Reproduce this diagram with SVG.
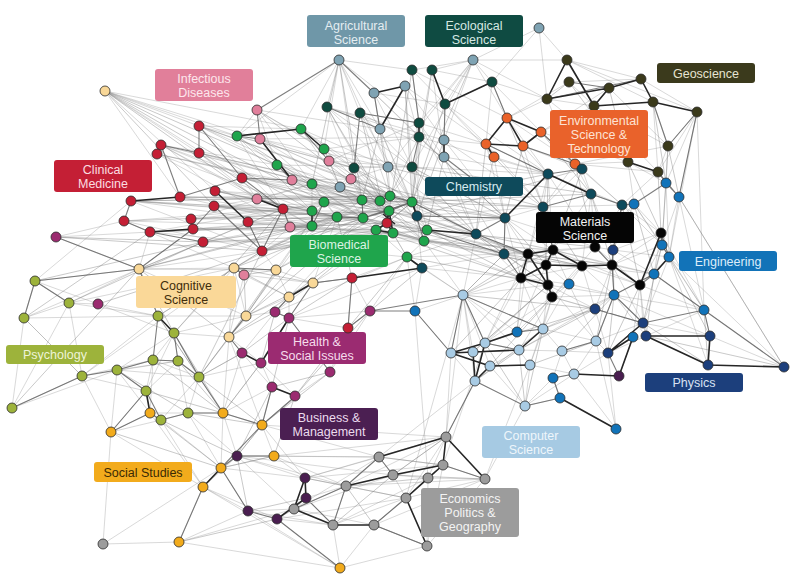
<svg xmlns="http://www.w3.org/2000/svg" width="804" height="583" viewBox="0 0 804 583">
<style>
.e1{fill:none;stroke:#8e8e8e;stroke-opacity:.42;stroke-width:.8}
.e15{fill:none;stroke:#7a7a7a;stroke-opacity:.45;stroke-width:.9}
.e2{fill:none;stroke:#5e5e5e;stroke-opacity:.8;stroke-width:1.1}
.e3{fill:none;stroke:#262626;stroke-width:1.6}
circle{stroke:#2b2b2b;stroke-width:.8}
.lb{font-family:"Liberation Sans",Arial,sans-serif;font-size:12.5px;text-anchor:middle}
.agri circle{fill:#7fa3b3}.eco circle{fill:#0f4b40}.geo circle{fill:#3b3a1b}.env circle{fill:#ea6229}
.chem circle{fill:#0e4a5b}.mat circle{fill:#050505}.eng circle{fill:#1173b9}.phys circle{fill:#1c3f7c}
.cs circle{fill:#a8cbe4}.econ circle{fill:#9c9c9c}.bus circle{fill:#4a1e50}.soc circle{fill:#f2ab1c}
.psy circle{fill:#9db33b}.hs circle{fill:#9b2b70}.cog circle{fill:#f9d898}.bio circle{fill:#1fa54c}
.cli circle{fill:#c41f35}.inf circle{fill:#e07f9b}
</style>
<rect width="804" height="583" fill="#fff"/>
<g id="connectors">
<path class="e1" d="M105 91L199 126M105 91L242 178M105 91L260 139M105 91L283 209M105 91L301 129M105 91L180 197M105 91L215 191M105 91L237 136
M199 126L301 129M199 126L329 161M199 126L283 209M199 126L351 179M199 126L389 211M161 145L277 165M161 145L312 226M161 145L363 218M161 145L242 178M157 154L290 227M157 154L380 201
M199 153L312 184M199 153L283 209M199 153L412 202M242 178L324 202M242 178L363 200M242 178L390 196M242 178L427 230M131 201L283 209M131 201L312 211M131 201L363 218M131 201L262 251M131 201L424 241
M180 197L312 226M180 197L337 217M180 197L390 196M215 191L312 211M215 191L389 211M215 191L380 201M214 206L337 217M214 206L376 230M214 206L412 202
M124 221L283 209M124 221L262 251M124 221L312 226M124 221L234 268M150 232L324 202M150 232L363 218M150 232L407 257M191 219L312 184M191 219L389 211M193 229L337 217M193 229L393 233
M203 242L312 226M203 242L363 218M203 242L424 241M262 251L363 200M262 251L390 196M262 251L427 230M262 251L412 202
M257 110L324 149M257 110L380 129M257 110L354 168M257 110L237 136M257 110L312 184M257 110L277 165M260 139L354 168M260 139L363 200M260 139L419 137M260 139L388 167
M237 136L324 202M237 136L283 209M237 136L354 168M301 129L354 168M301 129L388 167M301 129L363 218M324 149L412 167M324 149L419 137M324 149L389 211
M277 165L362 200M277 165L412 202M277 165L388 167M329 161L380 201M329 161L419 123M329 161L412 167M292 180L363 218M292 180L412 202M292 180L351 179
M339 60L327 107M339 60L360 113M339 60L380 129M339 60L354 168M339 60L412 70M339 60L301 129M339 60L324 149M339 60L237 136M339 60L419 123M339 60L388 167
M327 107L362 200M327 107L388 167M327 107L412 167M327 107L380 201M327 107L444 140M360 113L390 196M360 113L412 202M360 113L444 157M360 113L476 234
M374 93L412 167M374 93L419 137M374 93L445 104M374 93L505 218M405 86L444 140M405 86L486 144M405 86L419 137M405 86L412 167
M412 70L419 123M412 70L473 60M412 70L445 104M412 70L507 118M432 70L473 60M432 70L492 82M432 70L419 137M432 70L444 157
M473 60L492 82M473 60L507 118M473 60L547 99M473 60L445 104M473 60L419 123M473 60L567 60M473 60L444 140M473 60L388 167M473 60L412 167
M492 82L486 144M492 82L507 118M492 82L547 99M492 82L541 132M445 104L486 144M445 104L444 157M445 104L494 157M445 104L548 174
M419 123L444 157M419 123L412 202M419 123L476 234M419 137L417 216M419 137L412 202M419 137L505 218M380 129L412 202M380 129L417 216M380 129L388 167
M388 167L424 241M388 167L412 202M388 167L476 234M354 168L390 196M354 168L424 241M354 168L407 257M412 167L427 230M412 167L476 234M412 167L505 218M412 167L548 174
M444 140L505 218M444 140L543 207M444 157L476 234M444 157L504 254M486 144L543 207M486 144L505 218M486 144L548 174M494 157L505 218M494 157L548 174M494 157L476 234
M507 118L575 164M507 118L547 99M523 146L575 164M523 146L582 169M541 132L594 106M541 132L575 164M541 132L609 88M539 28L473 60M539 28L567 60M539 28L547 99M539 28L492 82
M547 99L594 106M547 99L575 164M547 99L628 162M567 60L641 79M567 60L653 102M569 82L641 79M569 82L594 106M569 82L507 118M567 60L697 112M566 60L628 162
M594 106L628 162M594 106L668 146M609 88L668 146M641 79L697 112M653 102L668 146M653 102L658 172M697 112L668 146M697 112L679 197M697 112L666 183M697 112L658 172M668 146L658 172M668 146L666 183M697 112L704 310M697 112L669 257
M575 164L591 194M575 164L622 205M575 164L628 162M582 169L591 194M582 169L543 207M628 162L634 204M628 162L666 183M658 172L679 197M658 172L666 183M658 172L622 205
M548 174L543 207M548 174L591 194M548 174L528 254M548 174L553 250M543 207L505 218M543 207L528 254M543 207L595 247M543 207L546 265M591 194L595 247M591 194L622 205M591 194L582 266
M622 205L661 233M622 205L612 265M634 204L662 245M634 204L661 233M666 183L662 245M666 183L669 257M679 197L669 257M679 197L704 310M679 197L662 245
M505 218L528 254M505 218L504 254M505 218L521 278M476 234L504 254M476 234L521 278M476 234L463 295M417 216L476 234M417 216L422 268M427 230L504 254M424 241L463 295M407 257L463 295M422 268L463 295M422 268L521 278M422 268L504 254
M504 254L528 254M504 254L521 278M504 254L546 265M504 254L463 295M553 250L595 247M553 250L612 265M595 247L613 250M595 247L612 265M595 247L640 285M613 250L661 233M613 250L654 274
M661 233L654 274M669 257L704 310M654 274L614 295M612 265L614 295M612 265L654 274M582 266L569 284M582 266L614 295M569 284L552 297M569 284L614 295M552 297L614 295M552 297L595 309M548 285L595 309M521 278L552 297M546 265L569 284M528 254L582 266
M614 295L595 309M614 295L643 323M614 295L646 336M595 309L643 323M595 309L608 353M640 285L643 323M640 285L704 310M654 274L704 310M704 310L710 336M704 310L646 336M704 310L784 367M662 245L704 310M710 336L784 367M643 323L646 336M643 323L710 336M608 353L646 336M608 353L574 374M619 376L633 337M669 257L643 323M669 257L708 365M669 257L784 367M679 197L784 367
M596 341L643 323M596 341L608 353M596 341L614 295M596 341L562 351M562 351L608 353M562 351L574 374M562 351L543 329M574 374L596 341M553 378L562 351M553 378L574 374M553 378L525 406M616 429L608 353M616 429L596 341M616 429L574 374
M463 295L451 353M463 295L473 352M463 295L485 343M463 295L519 350M463 295L490 366M463 295L475 381M463 295L415 311M463 295L521 278M463 295L548 285M463 295L543 329M463 295L517 332M543 329L552 297M543 329L548 285M543 329L596 341M517 332L552 297M517 332L543 329M485 343L519 350M485 343L552 297M485 343L521 278M451 353L475 381M473 352L519 350M519 350L490 366M519 350L530 365M519 350L562 351M530 365L490 366M530 365L525 406M530 365L574 374M490 366L525 406M475 381L525 406M525 406L560 398M574 374L525 406M553 378L560 398M543 329L530 365M614 295L543 329M614 295L519 350M552 297L519 350M552 297L530 365M548 285L485 343M548 285L473 352
M463 295L446 437M475 381L446 437M451 353L446 437M485 343L443 465M525 406L485 479M530 365L485 479M415 311L428 478M475 381L379 457M463 295L406 498
M446 437L428 478M446 437L406 498M446 437L393 475M443 465L485 479M443 465L427 546M428 478L485 479M428 478L393 475M428 478L427 546M393 475L406 498M393 475L379 457M379 457L443 465M379 457L346 486M346 486L406 498M346 486L333 525M333 525L406 498M374 525L406 498M374 525L427 546M374 525L428 478M294 509L346 486M294 509L379 457M294 509L374 525M305 478L346 486M305 478L379 457M306 498L346 486M306 498L333 525M277 519L333 525M248 511L294 509M248 511L333 525
M237 456L305 478M237 456L294 509M237 456L346 486M274 456L346 486M274 456L379 457M221 468L305 478M221 468L248 511M203 487L248 511M203 487L277 519M203 487L179 542M203 487L340 568M179 542L340 568M179 542L294 509M179 542L248 511M103 544L179 542M103 544L111 432M103 544L221 468M340 568L333 525M340 568L374 525M340 568L277 519M340 568L427 546M340 568L248 511M427 546L485 479M485 479L406 498
M446 437L262 425M446 437L274 456M379 457L262 425M393 475L237 456M406 498L277 519M443 465L305 478M485 479L346 486M446 437L346 486M446 437L305 478M428 478L333 525M393 475L294 509M443 465L346 486M379 457L237 456M485 479L374 525
M237 456L274 456M237 456L221 468M237 456L262 425M237 456L223 413M237 456L188 413M274 456L262 425M274 456L305 478M274 456L221 468M262 425L295 396M262 425L272 387M262 425L223 413M262 425L229 337M262 425L305 478M221 468L223 413M221 468L188 413M221 468L161 420
M203 487L150 413M203 487L161 420M203 487L111 432M111 432L150 413M111 432L161 420M111 432L146 391M111 432L82 376M111 432L117 370M150 413L188 413M150 413L161 420M150 413L117 370M150 413L153 360M161 420L199 377M161 420L188 413M188 413L199 377M188 413L223 413M188 413L178 361M223 413L199 377M223 413L242 353M223 413L272 387M223 413L261 363M223 413L229 337
M12 408L82 376M12 408L24 318M12 408L117 370M12 408L69 303M82 376L146 391M82 376L153 360M82 376L69 303M82 376L24 318M82 376L178 361M82 376L158 316M117 370L146 391M117 370L153 360M117 370L178 361M117 370L199 377M117 370L174 333M153 360L178 361M153 360L146 391M153 360L174 333M153 360L199 377M178 361L199 377M178 361L174 333M178 361L146 391
M199 377L174 333M199 377L229 337M199 377L242 353M199 377L246 316M199 377L158 316M199 377L261 363M146 391L174 333M158 316L174 333M158 316L139 269M158 316L234 268M158 316L246 316M174 333L229 337M174 333L246 316M174 333L234 268M69 303L35 281M69 303L98 304M69 303L24 318M69 303L158 316M69 303L139 269M35 281L139 269M35 281L24 318M35 281L98 304M24 318L158 316M24 318L82 376M98 304L158 316M98 304L174 333M56 237L139 269M56 237L124 221M56 237L150 232M35 281L131 201M24 318L139 269M69 303L234 268M82 376L234 268
M139 269L234 268M139 269L150 232M139 269L193 229M139 269L203 242M139 269L262 251M139 269L276 270M139 269L246 316M234 268L244 275M234 268L276 270M234 268L246 316M234 268L229 337M234 268L262 251M244 275L289 297M244 275L313 283M244 275L229 337M276 270L313 283M276 270L289 297M276 270L262 251M276 270L324 202M313 283L289 297M313 283L352 278M313 283L337 217M313 283L275 312M289 297L275 312M289 297L289 318M289 297L246 316M246 316L229 337M246 316L275 312M229 337L242 353M229 337L261 363
M275 312L289 318M275 312L242 353M289 318L330 372M242 353L272 387M261 363L272 387M261 363L295 396M295 396L262 425M330 372L295 396M330 372L348 328M370 311L348 328M370 311L407 257M370 311L289 318M370 311L330 372M348 328L289 318M348 328L352 278M352 278L407 257M352 278L370 311M415 311L422 268M415 311L407 257M415 311L451 353M234 268L312 226M244 275L337 217M276 270L363 218M289 297L363 218M313 283L393 233M229 337L312 226M246 316L324 202M289 318L422 268M275 312L407 257
M312 184L324 202M312 184L312 211M312 184L337 217M312 184L363 200M324 202L312 211M324 202L337 217M324 202L363 218M312 211L337 217M312 226L337 217M312 226L363 218M337 217L363 218M337 217L362 200M362 200L380 201M362 200L390 196M362 200L363 218M363 218L376 230M363 218L387 223M380 201L389 211M389 211L412 202M393 233L407 257M393 233L424 241M390 196L412 202M412 202L417 216M412 202L427 230M417 216L427 230M424 241L407 257M376 230L407 257
M283 209L312 211M283 209L290 227M283 209L312 226M290 227L312 226M290 227L262 251M290 227L337 217M248 222L262 251M248 222L290 227M248 222L312 226M351 179L354 168M351 179L362 200M351 179L380 201M351 179L388 167M354 168L388 167M354 168L362 200M388 167L390 196M388 167L412 167M412 167L390 196M412 167L412 202M340 187L351 179M340 187L354 168M340 187L362 200M340 187L312 184M329 161L340 187M329 161L354 168M324 149L329 161M324 149L340 187
M257 199L312 184M257 199L283 209M257 199L214 206M257 199L242 178M257 199L312 211M257 199L363 200M257 199L337 217M283 209L363 218M283 209L390 196M290 227L389 211M290 227L393 233M262 251L337 217M262 251L376 230M262 251L393 233M203 242L283 209M191 219L283 209M193 229L290 227M180 197L257 199M161 145L257 199M199 153L257 199M215 191L257 199M131 201L257 199
M312 184L412 202M312 211L389 211M312 226L387 223M324 202L380 201M337 217L390 196M337 217L412 202M337 217L424 241M363 218L427 230M362 200L417 216M363 200L424 241M351 179L412 202M354 168L417 216M329 161L390 196M301 129L412 202M277 165L363 218M292 180L389 211M260 139L312 184M237 136L312 211M199 126L312 184M157 154L312 211M131 201L337 217M150 232L312 226M203 242L337 217M262 251L412 202
M417 216L505 218M417 216L543 207M427 230L505 218M424 241L476 234M407 257L476 234M407 257L504 254M412 202L476 234M412 202L505 218M390 196L476 234M389 211L476 234M387 223L505 218M393 233L504 254M424 241L521 278M427 230L528 254M412 167L505 218M419 137L548 174M444 157L548 174M444 140L486 144M419 123L486 144M360 113L419 123M327 107L419 137
M505 218L553 250M505 218L595 247M476 234L528 254M476 234L546 265M504 254L553 250M504 254L548 285M528 254L595 247M528 254L612 265M546 265L612 265M546 265L552 297M553 250L640 285M582 266L640 285M582 266L552 297M548 285L614 295M521 278L569 284M521 278L582 266M553 250L569 284M595 247L552 297M612 265L661 233M612 265L662 245M640 285L669 257M640 285L662 245M582 266L654 274M553 250L654 274
M543 207L622 205M543 207L553 250M591 194L553 250M591 194L613 250M622 205L595 247M622 205L613 250M634 204L595 247M634 204L613 250M575 164L543 207M582 169L622 205M548 174L622 205M548 174L595 247M523 146L543 207M523 146L548 174M541 132L582 169M507 118L548 174M541 132L628 162M575 164L658 172M575 164L668 146M594 106L658 172
M661 233L669 257M634 204L669 257M622 205L662 245M613 250L669 257M661 233L704 310M662 245L654 274M614 295L704 310M614 295L710 336M640 285L646 336M640 285L633 337M612 265L643 323M612 265L595 309M582 266L595 309M552 297L643 323M548 285L596 341M569 284L596 341M569 284L543 329M546 265L517 332M528 254L517 332M528 254L485 343M521 278L517 332M521 278L543 329"/>
<path class="e15" d="M390 196L543 207M389 211L528 254M412 202L548 174M424 241L553 250M427 230L595 247M393 233L546 265M387 223L582 266M376 230L521 278M363 218L504 254M362 200L505 218M380 201L543 207M412 202L591 194M417 216L582 169M407 257L548 285M424 241L612 265M412 167L591 194M419 137L505 218M388 167L543 207M354 168L476 234M351 179L505 218M340 187L417 216M324 202L417 216M312 184L427 230M337 217L427 230M363 218L424 241M390 196L427 230M389 211L424 241M393 233L427 230M376 230L424 241M387 223L412 202M380 201L412 202M362 200L389 211
M131 201L390 196M124 221L389 211M150 232L387 223M193 229L376 230M203 242L393 233M180 197L363 200M157 154L362 200M161 145L380 201M199 153L390 196M199 126L412 202M242 178L389 211M214 206L363 218M215 191L337 217M191 219L363 218M262 251L387 223M248 222L389 211M283 209L380 201M290 227L376 230M257 199L390 196M260 139L390 196M237 136L363 218M257 110L389 211M105 91L312 211M105 91L324 202M105 91L277 165M105 91L257 199M105 91L214 206
M139 269L312 226M139 269L283 209M139 269L337 217M234 268L363 218M276 270L389 211M313 283L412 202M289 297L387 223M246 316L363 218M229 337L337 217M174 333L283 209M158 316L262 251M199 377L262 251M98 304L262 251M69 303L203 242M35 281L203 242M24 318L150 232M56 237L203 242M56 237L262 251M12 408L139 269
M327 107L389 211M360 113L387 223M374 93L390 196M405 86L412 202M412 70L389 211M432 70L412 202M380 129L362 200M419 137L390 196M445 104L412 202M444 140L417 216M444 157L427 230M473 60L412 202M339 60L362 200M339 60L312 184
M417 216L528 254M427 230L521 278M424 241L546 265M476 234L553 250M476 234L548 285M504 254L582 266M505 218L546 265M548 174L546 265M543 207L582 266M591 194L612 265M622 205L640 285M634 204L654 274M582 169L553 250M575 164L595 247M523 146L505 218M494 157L543 207M486 144L476 234M507 118L543 207M541 132L591 194M628 162L661 233M658 172L661 233M668 146L679 197M668 146L662 245M653 102L666 183M609 88L628 162M569 82L547 99M569 82L628 162
M679 197L784 367M669 257L710 336M662 245L643 323M654 274L646 336M640 285L608 353M614 295L608 353M612 265L596 341M613 250L614 295M704 310L708 365M646 336L784 367M643 323L708 365
M463 295L528 254M463 295L553 250M463 295L504 254M463 295L595 309M485 343L595 309M519 350L595 309M543 329L595 309M530 365L596 341M562 351L614 295M451 353L521 278M473 352L548 285M490 366L552 297M475 381L519 350M475 381L543 329M525 406L543 329M525 406L519 350M525 406L485 343
M446 437L393 475M443 465L379 457M428 478L346 486M406 498L305 478M427 546L374 525M485 479L393 475M374 525L346 486M333 525L393 475M294 509L306 498M248 511L306 498M277 519L294 509M237 456L248 511M221 468L274 456M262 425L237 456M203 487L237 456M179 542L277 519M111 432L221 468M150 413L221 468M161 420L237 456M188 413L262 425M199 377L262 425M146 391L223 413M117 370L188 413M153 360L223 413M178 361L223 413M174 333L223 413M158 316L199 377M229 337L199 377M242 353L199 377M261 363L223 413M295 396L274 456M272 387L237 456M330 372L262 425
M139 269L229 337M139 269L174 333M234 268L289 297M234 268L313 283M276 270L246 316M276 270L229 337M244 275L246 316M244 275L276 270M313 283L246 316M289 297L229 337M275 312L229 337M289 318L242 353M275 312L261 363M289 318L272 387M330 372L272 387M348 328L295 396M370 311L295 396M352 278L289 318M352 278L313 283M370 311L422 268M352 278L337 217M348 328L407 257"/>
<path class="e2" d="M339 60L257 110M339 60L374 93M260 139L237 136M199 126L242 178M180 197L242 178M124 221L150 232M193 229L191 219M262 251L283 209M242 178L292 180M324 202L312 226M412 70L419 123M374 93L380 129M419 123L360 113M505 218L476 234M505 218L504 254M547 99L641 79M569 82L609 88M662 245L669 257M661 233L662 245M370 311L415 311M370 311L463 295M237 456L274 456M221 468L262 425M82 376L117 370M82 376L12 408M56 237L139 269M139 269L35 281M313 283L352 278M412 202L424 241M363 218L362 200M380 201L390 196M444 157L470 177M591 194L622 205M543 329L517 332M553 378L574 374M257 110L260 139M199 153L161 145M277 165L292 180M283 209L290 227M262 251L248 222M139 269L193 229M234 268L276 270M246 316L229 337M289 318L330 372M306 498L333 525M346 486L333 525M443 465L485 479M117 370L153 360M153 360L178 361M161 420L146 391M174 333L199 377M178 361L199 377M199 377L223 413M188 413L223 413M111 432L150 413M203 487L179 542M340 568L277 519M24 318L35 281M69 303L35 281M158 316L139 269M486 144L548 174M523 146L575 164M658 172L679 197M666 183L679 197M704 310L643 323M704 310L710 336M614 295L643 323M595 309L643 323M485 343L463 295M463 295L451 353M475 381L525 406M525 406L560 398M560 398L553 378M296 396L262 425M272 387L262 425M612 265L614 295M654 274L614 295M640 285L654 274M412 202L476 234M363 218L412 202M389 211L412 202M390 196L412 202M363 218L389 211M337 217L363 218M427 230L504 254M417 216L505 218M476 234L528 254M504 254L521 278M543 207L553 250M595 247L612 265M622 205L613 250M237 136L260 139M301 129L329 161M199 126L199 153M161 145L180 197M242 178L283 209M214 206L262 251M131 201L124 221M150 232L203 242M214 206L193 229M327 107L380 129M360 113L354 168M419 137L412 167M445 104L444 140M492 82L507 118M541 132L575 164M575 164L582 169M548 174L582 169M543 207L591 194M622 205L634 204M634 204L666 183M666 183L658 172M653 102L668 146M668 146L697 112M697 112L679 197M613 250L612 265M661 233L669 257M654 274L704 310M704 310L784 367M619 376L608 353M596 341L614 295M562 351L596 341M485 343L519 350M463 295L543 329M475 381L446 437M415 311L451 353M393 475L379 457M379 457L346 486M346 486L294 509M374 525L406 498M427 546L374 525M277 519L248 511M248 511L221 468M237 456L221 468M262 425L223 413M223 413L199 377M188 413L161 420M150 413L161 420M111 432L146 391M117 370L146 391M158 316L153 360M174 333L178 361M229 337L242 353M275 312L289 318M289 297L275 312M244 275L234 268M313 283L289 318M352 278L348 328M370 311L348 328"/>
<path class="e3" d="M237 136L301 129M301 129L324 149M260 139L292 180M131 201L180 197M215 191L248 222M150 232L193 229M257 199L283 209M312 211L312 226M389 211L387 223M387 223L393 233M387 223L376 230M389 211L393 233M376 230L393 233M383 214L395 224M427 230L476 234M407 257L422 268M352 278L422 268M432 70L445 104M445 104L492 82M374 93L405 86M405 86L380 129M444 140L444 157M548 174L505 218M567 60L547 99M567 60L594 106M547 99L609 88M609 88L594 106M609 88L641 79M641 79L653 102M653 102L697 112M594 106L653 102M628 162L658 172M507 118L486 144M486 144L523 146M523 146L541 132M507 118L541 132M507 118L523 146M486 144L494 157M528 254L553 250M528 254L521 278M521 278L546 265M546 265L548 285M521 278L548 285M553 250L546 265M553 250L582 266M582 266L612 265M612 265L640 285M548 285L552 297M528 254L548 285M546 265L582 266M661 233L640 285M646 336L710 336M710 336L708 365M708 365L784 367M646 336L708 365M643 323L608 353M633 337L608 353M633 337L619 376M619 376L574 374M451 353L473 352M473 352L519 350M451 353L485 343M451 353L490 366M485 343L475 381M473 352L475 381M490 366L475 381M519 350L543 329M485 343L517 332M560 398L616 429M446 437L443 465M446 437L485 479M443 465L428 478M443 465L406 498M428 478L406 498M406 498L427 546M379 457L446 437M393 475L443 465M305 478L306 498M306 498L277 519M294 509L333 525M333 525L374 525M294 509L305 478M346 486L393 475M221 468L203 487M150 413L146 391M158 316L174 333M242 353L261 363M272 387L295 396M261 363L289 318M289 297L313 283M417 216L412 202M591 194L548 174M419 123L419 137M669 257L654 274M490 366L530 365"/>
</g>
<g id="agricultural-science" class="agri">
<circle cx="339" cy="60" r="5"/><circle cx="374" cy="93" r="5"/><circle cx="405" cy="86" r="5"/><circle cx="380" cy="129" r="5"/><circle cx="444" cy="140" r="5"/><circle cx="444" cy="157" r="5"/><circle cx="388" cy="167" r="5"/><circle cx="340" cy="187" r="5"/><circle cx="473" cy="60" r="5"/><circle cx="539" cy="28" r="5"/>
<rect x="307" y="15" width="98" height="32" rx="3" fill="#6f97a8"/>
<text class="lb" x="356" y="29.5" fill="#e4edf1">Agricultural</text><text class="lb" x="356" y="43.5" fill="#e4edf1">Science</text>
</g>
<g id="ecological-science" class="eco">
<circle cx="412" cy="70" r="5"/><circle cx="432" cy="70" r="5"/><circle cx="492" cy="82" r="5"/><circle cx="327" cy="107" r="5"/><circle cx="360" cy="113" r="5"/><circle cx="445" cy="104" r="5"/><circle cx="419" cy="123" r="5"/><circle cx="419" cy="137" r="5"/><circle cx="354" cy="168" r="5"/><circle cx="412" cy="167" r="5"/>
<rect x="425" y="15" width="98" height="32" rx="3" fill="#0f4b42"/>
<text class="lb" x="474" y="29.5" fill="#d5e8e2">Ecological</text><text class="lb" x="474" y="43.5" fill="#d5e8e2">Science</text>
</g>
<g id="geoscience" class="geo">
<circle cx="567" cy="60" r="5"/><circle cx="569" cy="82" r="5"/><circle cx="609" cy="88" r="5"/><circle cx="641" cy="79" r="5"/><circle cx="547" cy="99" r="5"/><circle cx="594" cy="106" r="5"/><circle cx="653" cy="102" r="5"/><circle cx="697" cy="112" r="5"/><circle cx="668" cy="146" r="5"/><circle cx="628" cy="162" r="5"/><circle cx="658" cy="172" r="5"/>
<rect x="657" y="63" width="98" height="20" rx="3" fill="#3b3a1c"/>
<text class="lb" x="706" y="77.5" fill="#e6e4d2">Geoscience</text>
</g>
<g id="environmental-science" class="env">
<circle cx="507" cy="118" r="5"/><circle cx="541" cy="132" r="5"/><circle cx="486" cy="144" r="5"/><circle cx="523" cy="146" r="5"/><circle cx="494" cy="157" r="5"/><circle cx="575" cy="164" r="5"/>
<rect x="550" y="110" width="98" height="48" rx="3" fill="#e9622b"/>
<text class="lb" x="599" y="124.5" fill="#fde2d4">Environmental</text><text class="lb" x="599" y="138.5" fill="#fde2d4">Science &amp;</text><text class="lb" x="599" y="152.5" fill="#fde2d4">Technology</text>
</g>
<g id="chemistry" class="chem">
<circle cx="582" cy="169" r="5"/><circle cx="548" cy="174" r="5"/><circle cx="591" cy="194" r="5"/><circle cx="622" cy="205" r="5"/><circle cx="543" cy="207" r="5"/><circle cx="417" cy="216" r="5"/><circle cx="505" cy="218" r="5"/><circle cx="476" cy="234" r="5"/><circle cx="504" cy="254" r="5"/><circle cx="422" cy="268" r="5"/>
<rect x="425" y="177" width="98" height="19" rx="3" fill="#0e4a5b"/>
<text class="lb" x="474" y="191" fill="#d6eaf0">Chemistry</text>
</g>
<g id="materials-science" class="mat">
<circle cx="528" cy="254" r="5"/><circle cx="553" cy="250" r="5"/><circle cx="595" cy="247" r="5"/><circle cx="661" cy="233" r="5"/><circle cx="546" cy="265" r="5"/><circle cx="582" cy="266" r="5"/><circle cx="612" cy="265" r="5"/><circle cx="521" cy="278" r="5"/><circle cx="548" cy="285" r="5"/><circle cx="640" cy="285" r="5"/><circle cx="552" cy="297" r="5"/>
<rect x="536" y="212" width="98" height="31" rx="3" fill="#050505"/>
<text class="lb" x="585" y="226" fill="#f2f2f2">Materials</text><text class="lb" x="585" y="240" fill="#f2f2f2">Science</text>
</g>
<g id="engineering" class="eng">
<circle cx="666" cy="183" r="5"/><circle cx="679" cy="197" r="5"/><circle cx="634" cy="204" r="5"/><circle cx="662" cy="245" r="5"/><circle cx="669" cy="257" r="5"/><circle cx="569" cy="284" r="5"/><circle cx="654" cy="274" r="5"/><circle cx="614" cy="295" r="5"/><circle cx="415" cy="311" r="5"/><circle cx="704" cy="310" r="5"/><circle cx="517" cy="332" r="5"/><circle cx="633" cy="337" r="5"/><circle cx="553" cy="378" r="5"/><circle cx="560" cy="398" r="5"/><circle cx="616" cy="429" r="5"/>
<rect x="679" y="251" width="98" height="20" rx="3" fill="#1273b8"/>
<text class="lb" x="728" y="265.5" fill="#dcedf9">Engineering</text>
</g>
<g id="physics" class="phys">
<circle cx="613" cy="250" r="5"/><circle cx="595" cy="309" r="5"/><circle cx="643" cy="323" r="5"/><circle cx="646" cy="336" r="5"/><circle cx="710" cy="336" r="5"/><circle cx="608" cy="353" r="5"/><circle cx="708" cy="365" r="5"/><circle cx="784" cy="367" r="5"/>
<rect x="645" y="373" width="98" height="19" rx="3" fill="#1c3f7c"/>
<text class="lb" x="694" y="387" fill="#d8e2f3">Physics</text>
</g>
<g id="computer-science" class="cs">
<circle cx="463" cy="295" r="5"/><circle cx="543" cy="329" r="5"/><circle cx="485" cy="343" r="5"/><circle cx="451" cy="353" r="5"/><circle cx="473" cy="352" r="5"/><circle cx="519" cy="350" r="5"/><circle cx="562" cy="351" r="5"/><circle cx="596" cy="341" r="5"/><circle cx="490" cy="366" r="5"/><circle cx="530" cy="365" r="5"/><circle cx="475" cy="381" r="5"/><circle cx="574" cy="374" r="5"/><circle cx="525" cy="406" r="5"/>
<rect x="482" y="426" width="98" height="32" rx="3" fill="#a6cae3"/>
<text class="lb" x="531" y="440" fill="#eef6fb">Computer</text><text class="lb" x="531" y="454" fill="#eef6fb">Science</text>
</g>
<g id="economics" class="econ">
<circle cx="446" cy="437" r="5"/><circle cx="443" cy="465" r="5"/><circle cx="428" cy="478" r="5"/><circle cx="485" cy="479" r="5"/><circle cx="406" cy="498" r="5"/><circle cx="427" cy="546" r="5"/><circle cx="294" cy="509" r="5"/><circle cx="379" cy="457" r="5"/><circle cx="346" cy="486" r="5"/><circle cx="393" cy="475" r="5"/><circle cx="333" cy="525" r="5"/><circle cx="374" cy="525" r="5"/><circle cx="103" cy="544" r="5"/>
<rect x="421" y="488" width="98" height="49" rx="3" fill="#9c9c9c"/>
<text class="lb" x="470" y="502.5" fill="#f3f3f3">Economics</text><text class="lb" x="470" y="516.5" fill="#f3f3f3">Politics &amp;</text><text class="lb" x="470" y="530.5" fill="#f3f3f3">Geography</text>
</g>
<g id="business-management" class="bus">
<circle cx="619" cy="376" r="5"/><circle cx="237" cy="456" r="5"/><circle cx="305" cy="478" r="5"/><circle cx="306" cy="498" r="5"/><circle cx="248" cy="511" r="5"/><circle cx="277" cy="519" r="5"/>
<rect x="280" y="408" width="98" height="32" rx="3" fill="#4b1f52"/>
<text class="lb" x="329" y="422" fill="#ecdcee">Business &amp;</text><text class="lb" x="329" y="436" fill="#ecdcee">Management</text>
</g>
<g id="social-studies" class="soc">
<circle cx="150" cy="413" r="5"/><circle cx="223" cy="413" r="5"/><circle cx="262" cy="425" r="5"/><circle cx="111" cy="432" r="5"/><circle cx="274" cy="456" r="5"/><circle cx="221" cy="468" r="5"/><circle cx="203" cy="487" r="5"/><circle cx="179" cy="542" r="5"/><circle cx="340" cy="568" r="5"/>
<rect x="94" y="462" width="98" height="20" rx="3" fill="#f2ab1c"/>
<text class="lb" x="143" y="476.5" fill="#3a2a05">Social Studies</text>
</g>
<g id="psychology" class="psy">
<circle cx="35" cy="281" r="5"/><circle cx="69" cy="303" r="5"/><circle cx="24" cy="318" r="5"/><circle cx="158" cy="316" r="5"/><circle cx="174" cy="333" r="5"/><circle cx="82" cy="376" r="5"/><circle cx="117" cy="370" r="5"/><circle cx="153" cy="360" r="5"/><circle cx="178" cy="361" r="5"/><circle cx="199" cy="377" r="5"/><circle cx="146" cy="391" r="5"/><circle cx="12" cy="408" r="5"/><circle cx="161" cy="420" r="5"/><circle cx="188" cy="413" r="5"/>
<rect x="6" y="345" width="98" height="19" rx="3" fill="#9db33b"/>
<text class="lb" x="55" y="359" fill="#eef4d8">Psychology</text>
</g>
<g id="health-social-issues" class="hs">
<circle cx="56" cy="237" r="5"/><circle cx="98" cy="304" r="5"/><circle cx="275" cy="312" r="5"/><circle cx="289" cy="318" r="5"/><circle cx="370" cy="311" r="5"/><circle cx="242" cy="353" r="5"/><circle cx="261" cy="363" r="5"/><circle cx="330" cy="372" r="5"/><circle cx="272" cy="387" r="5"/><circle cx="295" cy="396" r="5"/>
<rect x="268" y="332" width="98" height="32" rx="3" fill="#9b2b71"/>
<text class="lb" x="317" y="346" fill="#f6dcec">Health &amp;</text><text class="lb" x="317" y="360" fill="#f6dcec">Social Issues</text>
</g>
<g id="cognitive-science" class="cog">
<circle cx="105" cy="91" r="5"/><circle cx="139" cy="269" r="5"/><circle cx="234" cy="268" r="5"/><circle cx="276" cy="270" r="5"/><circle cx="313" cy="283" r="5"/><circle cx="289" cy="297" r="5"/><circle cx="246" cy="316" r="5"/><circle cx="229" cy="337" r="5"/>
<rect x="136" y="276" width="100" height="32" rx="3" fill="#fad898"/>
<text class="lb" x="186" y="290" fill="#3f2d0c">Cognitive</text><text class="lb" x="186" y="304" fill="#3f2d0c">Science</text>
</g>
<g id="biomedical-science" class="bio">
<circle cx="237" cy="136" r="5"/><circle cx="301" cy="129" r="5"/><circle cx="324" cy="149" r="5"/><circle cx="277" cy="165" r="5"/><circle cx="312" cy="184" r="5"/><circle cx="324" cy="202" r="5"/><circle cx="312" cy="211" r="5"/><circle cx="337" cy="217" r="5"/><circle cx="312" cy="226" r="5"/><circle cx="363" cy="218" r="5"/><circle cx="362" cy="200" r="5"/><circle cx="380" cy="201" r="5"/><circle cx="390" cy="196" r="5"/><circle cx="389" cy="211" r="5"/><circle cx="412" cy="202" r="5"/><circle cx="427" cy="230" r="5"/><circle cx="424" cy="241" r="5"/><circle cx="407" cy="257" r="5"/><circle cx="376" cy="230" r="5"/><circle cx="393" cy="233" r="5"/>
<rect x="290" y="235" width="98" height="32" rx="3" fill="#1fa54c"/>
<text class="lb" x="339" y="249" fill="#dcf3e3">Biomedical</text><text class="lb" x="339" y="263" fill="#dcf3e3">Science</text>
</g>
<g id="clinical-medicine" class="cli">
<circle cx="199" cy="126" r="5"/><circle cx="161" cy="145" r="5"/><circle cx="157" cy="154" r="5"/><circle cx="199" cy="153" r="5"/><circle cx="242" cy="178" r="5"/><circle cx="131" cy="201" r="5"/><circle cx="180" cy="197" r="5"/><circle cx="215" cy="191" r="5"/><circle cx="214" cy="206" r="5"/><circle cx="283" cy="209" r="5"/><circle cx="191" cy="219" r="5"/><circle cx="193" cy="229" r="5"/><circle cx="150" cy="232" r="5"/><circle cx="124" cy="221" r="5"/><circle cx="203" cy="242" r="5"/><circle cx="262" cy="251" r="5"/><circle cx="248" cy="222" r="5"/><circle cx="352" cy="278" r="5"/><circle cx="348" cy="328" r="5"/><circle cx="387" cy="223" r="5"/>
<rect x="54" y="160" width="98" height="32" rx="3" fill="#c41f35"/>
<text class="lb" x="103" y="174" fill="#fbdde1">Clinical</text><text class="lb" x="103" y="188" fill="#fbdde1">Medicine</text>
</g>
<g id="infectious-diseases" class="inf">
<circle cx="257" cy="110" r="5"/><circle cx="260" cy="139" r="5"/><circle cx="329" cy="161" r="5"/><circle cx="292" cy="180" r="5"/><circle cx="351" cy="179" r="5"/><circle cx="257" cy="199" r="5"/><circle cx="290" cy="227" r="5"/><circle cx="244" cy="275" r="5"/>
<rect x="155" y="69" width="98" height="32" rx="3" fill="#e17f9a"/>
<text class="lb" x="204" y="83" fill="#fde6ec">Infectious</text><text class="lb" x="204" y="97" fill="#fde6ec">Diseases</text>
</g>
</svg>
